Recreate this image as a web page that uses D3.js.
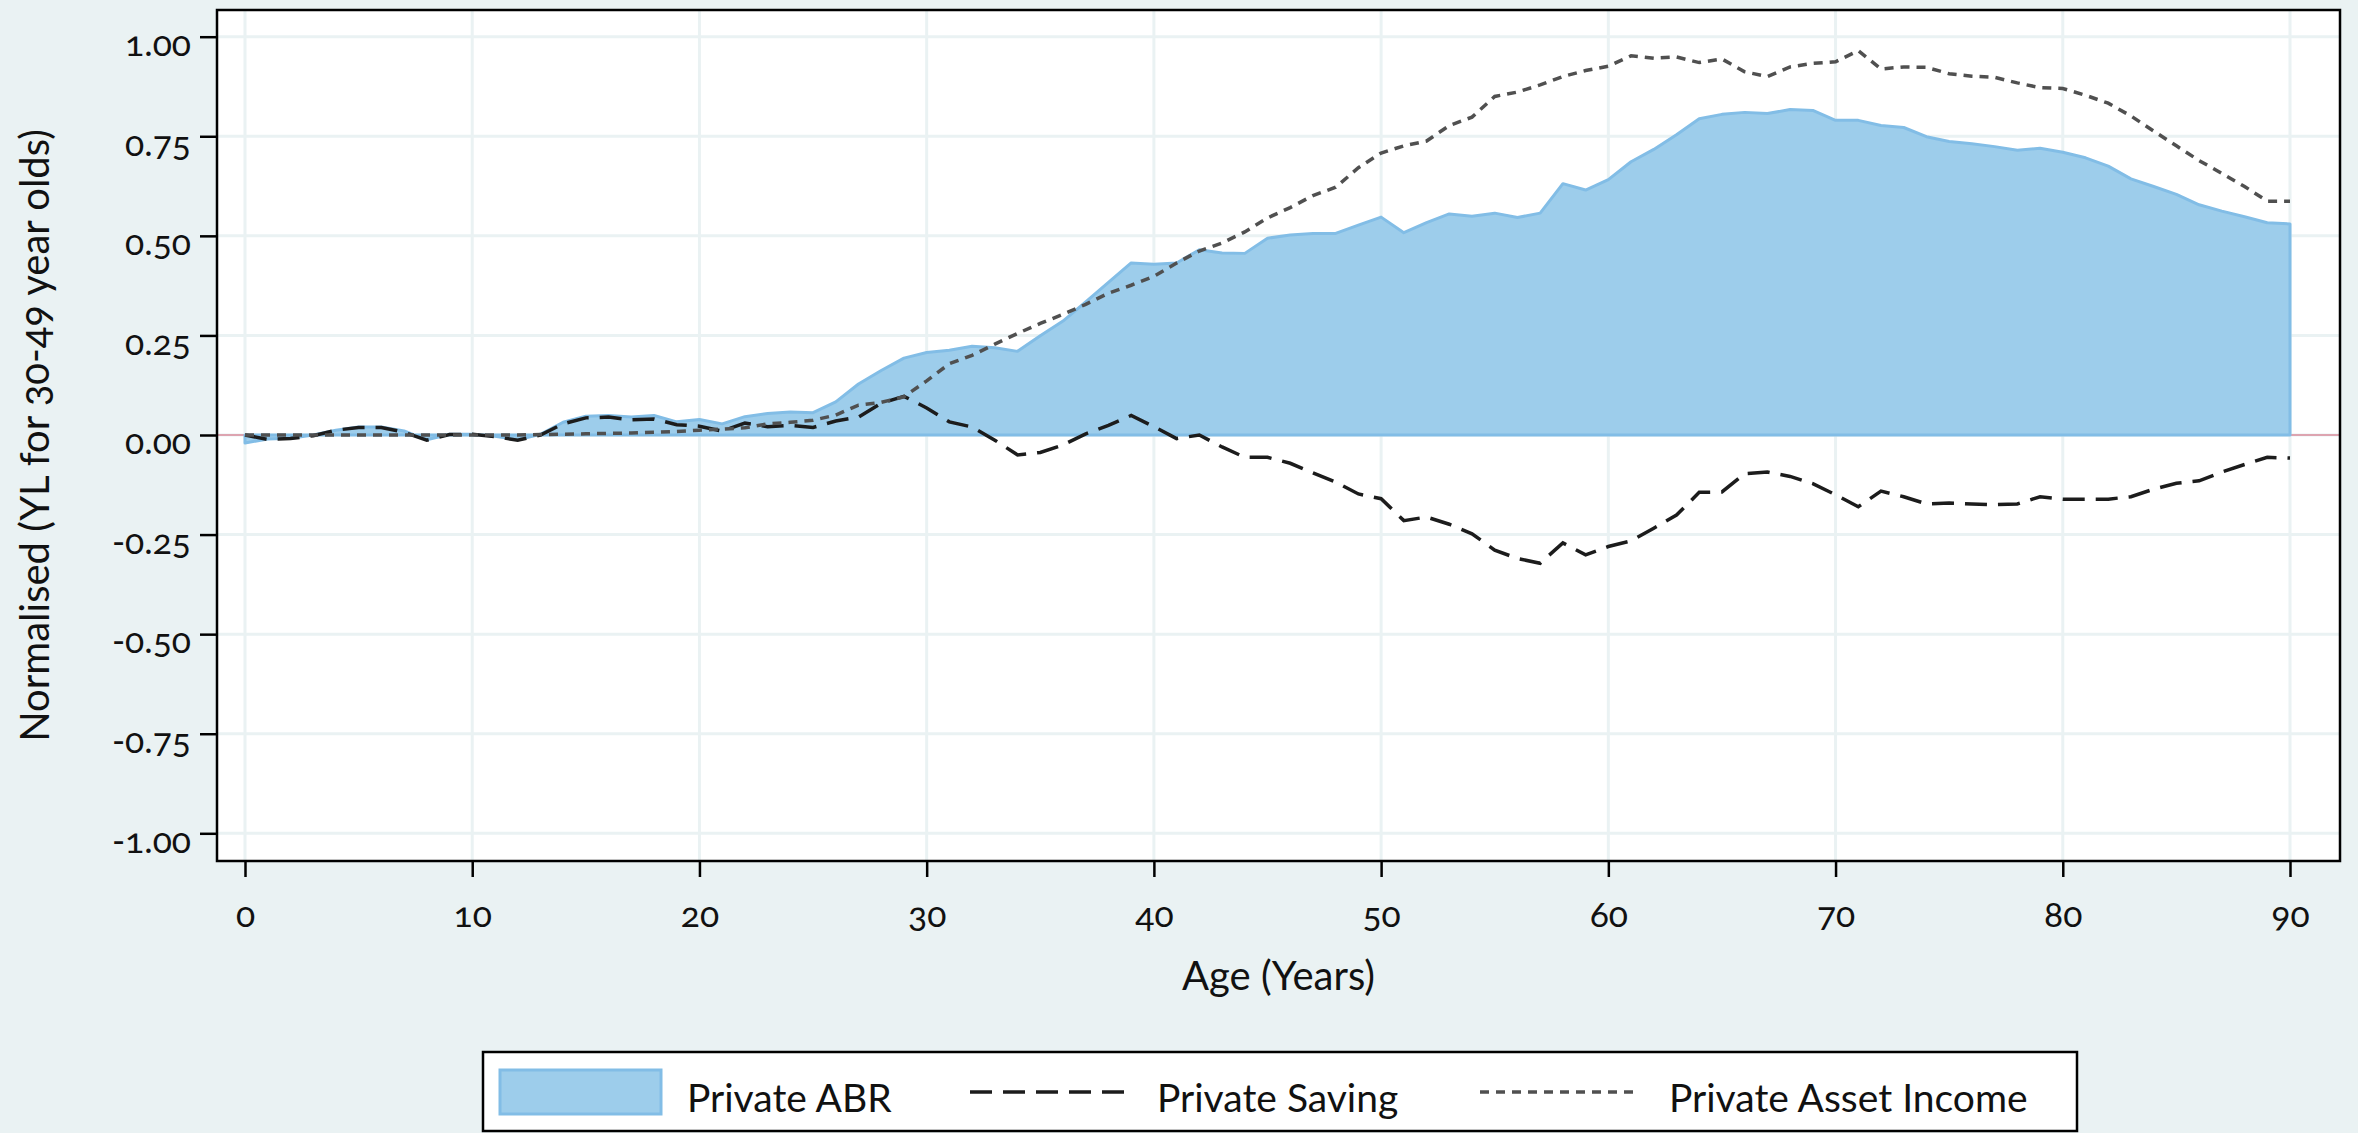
<!DOCTYPE html>
<html>
<head>
<meta charset="utf-8">
<script src="https://cdn.jsdelivr.net/npm/d3@7"></script>
<style>
  html, body { margin: 0; padding: 0; background: #eaf2f3; }
  svg { display: block; }
  text { font-family: Lato, "Noto Sans", sans-serif; fill: #111; font-variant-numeric: oldstyle-nums; font-feature-settings: "onum" 1; }
</style>
</head>
<body>
<svg id="chart" width="2358" height="1133"></svg>
<script>
// Age in years, one observation per year
const ages = d3.range(0, 91);

// Private age-based reallocations (normalised)
const privateABR = [
  -0.020, -0.010, -0.008, 0.000, 0.012, 0.020, 0.020, 0.010, -0.012, 0.002,
   0.002, -0.003, -0.012, 0.002, 0.032, 0.047, 0.049, 0.045, 0.049, 0.033,
   0.039, 0.028, 0.046, 0.054, 0.058, 0.056, 0.083, 0.128, 0.162, 0.193,
   0.207, 0.213, 0.223, 0.219, 0.210, 0.249, 0.286, 0.334, 0.383, 0.432,
   0.429, 0.432, 0.465, 0.457, 0.456, 0.494, 0.502, 0.506, 0.506, 0.527,
   0.547, 0.508, 0.533, 0.555, 0.549, 0.557, 0.546, 0.557, 0.631, 0.615,
   0.641, 0.686, 0.717, 0.754, 0.794, 0.805, 0.810, 0.807, 0.817, 0.815,
   0.790, 0.790, 0.777, 0.772, 0.749, 0.737, 0.731, 0.724, 0.715, 0.720,
   0.710, 0.696, 0.675, 0.643, 0.624, 0.604, 0.578, 0.562, 0.548, 0.533,
   0.530
];

// Private saving (normalised)
const privateSaving = [
   0.000, -0.011, -0.009, -0.002, 0.012, 0.019, 0.019, 0.007, -0.013, 0.001,
   0.002, -0.004, -0.013, 0.000, 0.028, 0.043, 0.045, 0.038, 0.040, 0.026,
   0.022, 0.010, 0.030, 0.021, 0.024, 0.019, 0.035, 0.045, 0.080, 0.097,
   0.068, 0.033, 0.020, -0.013, -0.050, -0.044, -0.025, 0.003, 0.024, 0.049,
   0.021, -0.009, 0.000, -0.030, -0.056, -0.056, -0.071, -0.095, -0.118, -0.148,
  -0.160, -0.215, -0.206, -0.224, -0.248, -0.289, -0.310, -0.322, -0.271, -0.301,
  -0.280, -0.266, -0.234, -0.201, -0.144, -0.143, -0.097, -0.093, -0.104, -0.122,
  -0.150, -0.180, -0.141, -0.155, -0.173, -0.171, -0.173, -0.175, -0.173, -0.155,
  -0.161, -0.161, -0.161, -0.155, -0.136, -0.121, -0.115, -0.093, -0.074, -0.056,
  -0.058
];

// Private asset income (normalised)
const privateAssetIncome = [
  0.000, 0.000, 0.000, 0.000, 0.000, 0.000, 0.000, 0.000, 0.000, 0.000,
  0.000, 0.000, 0.000, 0.001, 0.002, 0.003, 0.004, 0.005, 0.007, 0.009,
  0.012, 0.015, 0.018, 0.028, 0.032, 0.037, 0.050, 0.075, 0.082, 0.096,
  0.136, 0.179, 0.200, 0.228, 0.255, 0.280, 0.303, 0.328, 0.356, 0.376,
  0.398, 0.432, 0.462, 0.482, 0.510, 0.545, 0.571, 0.601, 0.622, 0.671,
  0.708, 0.726, 0.738, 0.777, 0.798, 0.850, 0.861, 0.879, 0.900, 0.915,
  0.926, 0.952, 0.946, 0.949, 0.935, 0.944, 0.912, 0.900, 0.924, 0.933,
  0.937, 0.965, 0.919, 0.924, 0.923, 0.907, 0.901, 0.898, 0.884, 0.872,
  0.870, 0.853, 0.833, 0.801, 0.763, 0.726, 0.689, 0.657, 0.624, 0.587,
  0.587
];

const xTicks = [0, 10, 20, 30, 40, 50, 60, 70, 80, 90];
const yTicks = [1, 0.75, 0.5, 0.25, 0, -0.25, -0.5, -0.75, -1];
const legendLabels = ["Private ABR", "Private Saving", "Private Asset Income"];
const xTitle = "Age (Years)";
const yTitle = "Normalised (YL for 30-49 year olds)";

// Layout
const plot = { left: 217, right: 2340, top: 10, bottom: 861 };
const x = d3.scaleLinear().domain([0, 90]).range([245, 2290]);
const y = d3.scaleLinear().domain([-1, 1]).range([833.3, 36.7]);

const colors = {
  bg: "#eaf2f3",
  grid: "#eaf2f3",
  areaFill: "#9dcdeb",
  areaStroke: "#82bde6",
  saving: "#1c1c1c",
  assetIncome: "#505050",
  zero: "#d98a9a"
};

const svg = d3.select("#chart");
svg.append("rect").attr("width", 2358).attr("height", 1133).attr("fill", colors.bg);

// Plot region
svg.append("rect")
  .attr("x", plot.left).attr("y", plot.top)
  .attr("width", plot.right - plot.left).attr("height", plot.bottom - plot.top)
  .attr("fill", "#fff");

// Grid
const grid = svg.append("g");
grid.selectAll("line.gx").data(xTicks).join("line")
  .attr("x1", d => x(d)).attr("x2", d => x(d))
  .attr("y1", plot.top).attr("y2", plot.bottom)
  .attr("stroke", colors.grid).attr("stroke-width", 3);
grid.selectAll("line.gy").data(yTicks).join("line")
  .attr("x1", plot.left).attr("x2", plot.right)
  .attr("y1", d => y(d)).attr("y2", d => y(d))
  .attr("stroke", colors.grid).attr("stroke-width", 3);

// Zero reference line
svg.append("line")
  .attr("x1", plot.left).attr("x2", plot.right)
  .attr("y1", y(0)).attr("y2", y(0))
  .attr("stroke", colors.zero).attr("stroke-width", 1.5);

// Private ABR area
const area = d3.area()
  .x((d, i) => x(ages[i]))
  .y0(y(0))
  .y1(d => y(d));
svg.append("path")
  .datum(privateABR)
  .attr("d", area)
  .attr("fill", colors.areaFill)
  .attr("stroke", colors.areaStroke)
  .attr("stroke-width", 3)
  .attr("stroke-linejoin", "round");

const line = d3.line().x((d, i) => x(ages[i])).y(d => y(d));

svg.append("path")
  .datum(privateSaving)
  .attr("d", line)
  .attr("fill", "none")
  .attr("stroke", colors.saving)
  .attr("stroke-width", 3.5)
  .attr("stroke-dasharray", "22,11");

svg.append("path")
  .datum(privateAssetIncome)
  .attr("d", line)
  .attr("fill", "none")
  .attr("stroke", colors.assetIncome)
  .attr("stroke-width", 3.5)
  .attr("stroke-dasharray", "9,7");

// Frame
svg.append("rect")
  .attr("x", plot.left).attr("y", plot.top)
  .attr("width", plot.right - plot.left).attr("height", plot.bottom - plot.top)
  .attr("fill", "none").attr("stroke", "#000").attr("stroke-width", 2.5);

// Axes
const yAxis = svg.append("g")
  .attr("transform", `translate(${plot.left},0)`)
  .call(d3.axisLeft(y).tickValues(yTicks).tickSize(17).tickPadding(9)
    .tickFormat(d3.format(".2f")));
yAxis.select(".domain").remove();
yAxis.selectAll(".tick line").attr("stroke", "#000").attr("stroke-width", 2.5);
yAxis.selectAll(".tick text")
  .attr("dy", "0.53em")
  .style("font-size", "35.5px")
  .style("font-family", "Lato, 'Noto Sans', sans-serif")
  .attr("fill", "#111")
  .text(d => d3.format(".2f")(d).replace("−", "-"));

const xAxis = svg.append("g")
  .attr("transform", `translate(0,${plot.bottom})`)
  .call(d3.axisBottom(x).tickValues(xTicks).tickSize(16).tickFormat(d3.format("d")));
xAxis.select(".domain").remove();
xAxis.selectAll(".tick line").attr("stroke", "#000").attr("stroke-width", 2.5);
xAxis.selectAll(".tick text")
  .attr("y", 66).attr("dy", 0)
  .style("font-size", "35.5px")
  .style("font-family", "Lato, 'Noto Sans', sans-serif")
  .attr("fill", "#111");

// Axis titles
svg.append("text")
  .attr("x", (plot.left + plot.right) / 2).attr("y", 990)
  .attr("text-anchor", "middle")
  .style("font-size", "40px")
  .text(xTitle);

svg.append("text")
  .attr("transform", `translate(49,${(plot.top + plot.bottom) / 2}) rotate(-90)`)
  .attr("text-anchor", "middle")
  .style("font-size", "40px")
  .text(yTitle);

// Legend
const legend = svg.append("g");
legend.append("rect")
  .attr("x", 483).attr("y", 1052).attr("width", 1594).attr("height", 79)
  .attr("fill", "#fff").attr("stroke", "#000").attr("stroke-width", 2.5);

legend.append("rect")
  .attr("x", 500).attr("y", 1070).attr("width", 161).attr("height", 44)
  .attr("fill", colors.areaFill).attr("stroke", colors.areaStroke).attr("stroke-width", 3);
legend.append("line")
  .attr("x1", 970).attr("x2", 1128).attr("y1", 1092).attr("y2", 1092)
  .attr("stroke", colors.saving).attr("stroke-width", 3.5).attr("stroke-dasharray", "22,11");
legend.append("line")
  .attr("x1", 1480).attr("x2", 1635).attr("y1", 1092).attr("y2", 1092)
  .attr("stroke", colors.assetIncome).attr("stroke-width", 3.5).attr("stroke-dasharray", "9,7");

const legendX = [687, 1157, 1669];
legend.selectAll("text.lbl").data(legendLabels).join("text")
  .attr("class", "lbl")
  .attr("x", (d, i) => legendX[i]).attr("y", 1112)
  .style("font-size", "39px")
  .text(d => d);
</script>
</body>
</html>
